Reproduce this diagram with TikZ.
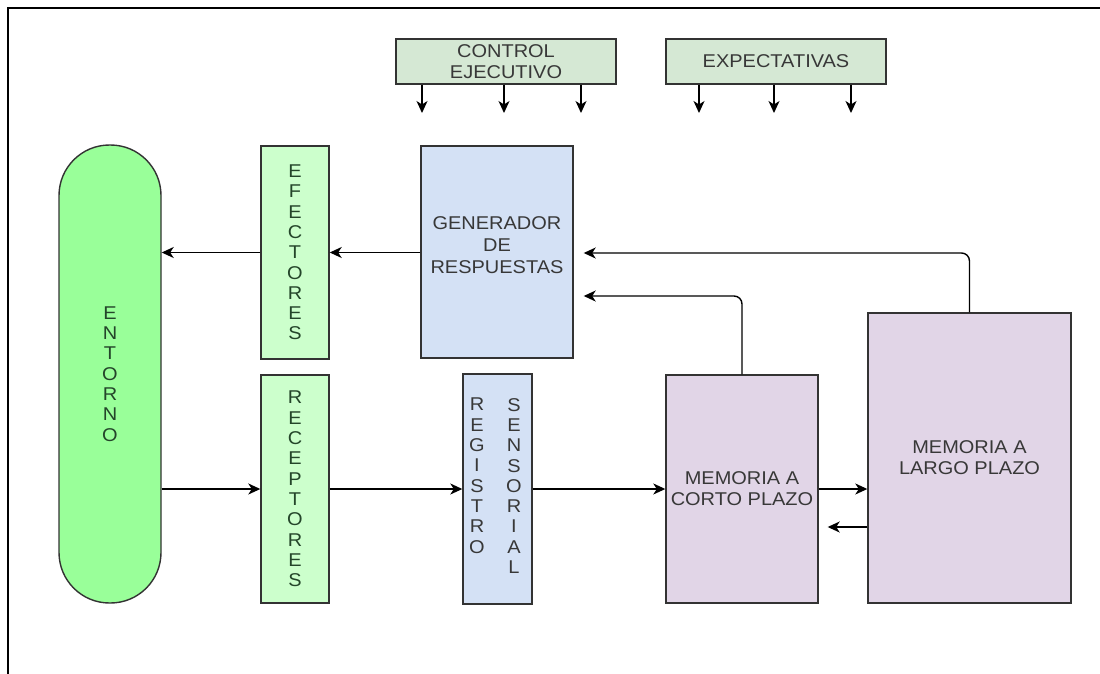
\documentclass[tikz,border=0pt]{standalone}
\usepackage{fontspec}
\setmainfont[FakeStretch=1.08]{Liberation Sans}
\usetikzlibrary{arrows.meta,calc}
\definecolor{ctrlfill}{HTML}{D5E8D4}
\definecolor{lgfill}{HTML}{CCFFCC}
\definecolor{entfill}{HTML}{99FF99}
\definecolor{bluefill}{HTML}{D4E1F5}
\definecolor{purfill}{HTML}{E1D5E7}
\definecolor{edge}{HTML}{333333}
\definecolor{txtgray}{HTML}{383838}
\definecolor{txtgreen}{HTML}{24452A}
\tikzset{
  box/.style={draw=edge, line width=1.4pt, rectangle, inner sep=0pt, align=center,
    font=\fontsize{18.5}{21}\selectfont, text=txtgray},
  vtext/.style={font=\fontsize{18.5}{20.3}\selectfont, align=center},
  arr/.style={draw=black, line width=1.4pt, -{Stealth[length=12pt,width=11pt,inset=3.5pt]}},
}
\begin{document}
\begin{tikzpicture}[x=1pt,y=-1pt]
\useasboundingbox (0,0) rectangle (1100,674);
\fill[white] (0,0) rectangle (1100,674);
\draw[line width=2pt] (8,674) -- (8,8) -- (1100,8);

% nodes
\node[box, fill=ctrlfill, minimum width=220pt, minimum height=45pt] (ctrl) at (506,61.5) {CONTROL\\EJECUTIVO};
\node[box, fill=ctrlfill, minimum width=220pt, minimum height=45pt] (exp) at (776,61.5) {EXPECTATIVAS};

\node[box, fill=entfill, rounded corners=50.5pt, minimum width=102pt, minimum height=458pt, text=txtgreen, vtext] (ent) at (110,374) {E\\N\\T\\O\\R\\N\\O};
\node[box, fill=lgfill, minimum width=68pt, minimum height=213pt, text=txtgreen, vtext] (efe) at (295,252.5) {E\\F\\E\\C\\T\\O\\R\\E\\S};
\node[box, fill=lgfill, minimum width=68pt, minimum height=228pt, text=txtgreen, vtext] (rec) at (295,489) {R\\E\\C\\E\\P\\T\\O\\R\\E\\S};

\node[box, fill=bluefill, minimum width=152pt, minimum height=212pt] (gen) at (497,252) {};
\node[text=txtgray, align=center, font=\fontsize{18.5}{22}\selectfont] (gentext) at (497,245) {GENERADOR\\DE\\RESPUESTAS};

\node[box, fill=bluefill, minimum width=69pt, minimum height=230pt] (reg) at (497.5,489) {};
\node[text=txtgray, vtext, anchor=north, inner sep=0pt] (regA) at (477,398) {R\\E\\G\\I\\S\\T\\R\\O};
\node[text=txtgray, vtext, anchor=north, inner sep=0pt] (regB) at (514,398) {S\\E\\N\\S\\O\\R\\I\\A\\L};

\node[box, fill=purfill, minimum width=152pt, minimum height=228pt] (mcp) at (742,489) {MEMORIA A\\CORTO PLAZO};
\node[box, fill=purfill, minimum width=203pt, minimum height=290pt] (mlp) at (969.5,458) {MEMORIA A\\LARGO PLAZO};

% top arrows
\foreach \x/\n in {422/a,504/b,581/c}{
  \coordinate (ct\n) at (\x,113);
  \draw[arr] (ctrl.south -| ct\n) -- (ct\n);
}
\foreach \x/\n in {699/a,774/b,851/c}{
  \coordinate (et\n) at (\x,113);
  \draw[arr] (exp.south -| et\n) -- (et\n);
}

% connectors
\draw[arr] (gen.west |- efe.east) -- (efe.east);
\draw[arr] (efe.west) -- (efe.west -| ent.east);
\draw[arr] (ent.east |- rec.west) -- (rec.west);
\draw[arr] (rec.east) -- (rec.east -| reg.west);
\draw[arr] (reg.east) -- (reg.east -| mcp.west);
\draw[arr] (mcp.east) -- (mcp.east -| mlp.west);
\draw[arr, shorten >=9pt] ($(mlp.west)+(0,69)$) -- ($(mcp.east)+(0,38)$);
\draw[arr, rounded corners=8pt, shorten >=10pt] (mcp.north) -- (742,296) -- (gen.east |- 0,296);
\draw[arr, rounded corners=8pt, shorten >=10pt] (mlp.north) -- (969.5,253) -- (gen.east |- 0,253);
\end{tikzpicture}
\end{document}
